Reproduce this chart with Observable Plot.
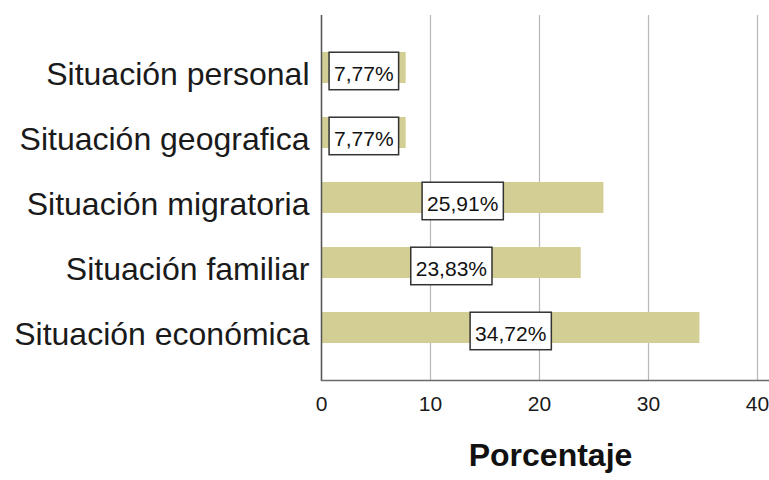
<!DOCTYPE html>
<html>
<head>
<meta charset="utf-8">
<script src="https://cdn.jsdelivr.net/npm/d3@7"></script>
<script src="https://cdn.jsdelivr.net/npm/@observablehq/plot@0.6"></script>
<style>
  html, body { margin: 0; padding: 0; background: #fff; }
  #chart svg { display: block; }
</style>
</head>
<body>
<div id="chart"></div>
<script>
const categories = ["Situación personal", "Situación geografica", "Situación migratoria", "Situación familiar", "Situación económica"];
const values = [7.77, 7.77, 25.91, 23.83, 34.72];
const valueLabels = ["7,77%", "7,77%", "25,91%", "23,83%", "34,72%"];
const xTicks = [0, 10, 20, 30, 40];
const xTitle = "Porcentaje";

const data = categories.map((c, i) => ({category: c, value: values[i], label: valueLabels[i]}));
const font = "'Liberation Sans', Arial, sans-serif";

const chart = Plot.plot({
  width: 769,
  height: 480,
  marginLeft: 321,
  marginRight: 0,
  marginTop: 15,
  marginBottom: 100,
  style: {fontFamily: font, background: "#fff", color: "#1a1a1a"},
  x: {domain: [0, 40], range: [321, 757]},
  y: {domain: categories, paddingInner: 0.521, paddingOuter: 0.536, align: 0.5},
  marks: [
    Plot.gridX({ticks: xTicks, stroke: "#b8b8b8", strokeOpacity: 1, strokeWidth: 1.2}),
    Plot.barX(data, {x: "value", y: "category", fill: "#d3ce94"}),
    Plot.text(data, {x: d => d.value / 2, y: "category", text: "label", fontSize: 21, dy: 6, fill: "#111"}),
    Plot.axisX({ticks: xTicks, tickSize: 0, tickPadding: 16, fontSize: 21, label: null, tickFormat: d => String(d)}),
    Plot.axisY({tickSize: 0, tickPadding: 12, fontSize: 32, label: null, dy: 7}),
    Plot.frame({anchor: "bottom", stroke: "#6a6a6a", strokeWidth: 1.5}),
    Plot.ruleX([0], {stroke: "#555", strokeWidth: 1.5}),
    Plot.text([xTitle], {frameAnchor: "bottom", dy: 85, dx: 5, fontSize: 32, fontWeight: "bold", fill: "#111"})
  ]
});

document.getElementById("chart").appendChild(chart);

// Draw boxes behind the value labels, sized from the rendered text.
const labelSet = new Set(valueLabels);
Array.from(chart.querySelectorAll("text"))
  .filter(t => labelSet.has(t.textContent.trim()))
  .forEach(t => {
    const bb = t.getBBox();
    const rect = document.createElementNS("http://www.w3.org/2000/svg", "rect");
    const tr = t.getAttribute("transform");
    if (tr) rect.setAttribute("transform", tr);
    rect.setAttribute("x", bb.x - 5);
    rect.setAttribute("width", bb.width + 10);
    rect.setAttribute("y", bb.y - 9.5);
    rect.setAttribute("height", 37.5);
    rect.setAttribute("fill", "#fff");
    rect.setAttribute("stroke", "#333");
    rect.setAttribute("stroke-width", 1.5);
    t.parentNode.insertBefore(rect, t);
  });
</script>
</body>
</html>
